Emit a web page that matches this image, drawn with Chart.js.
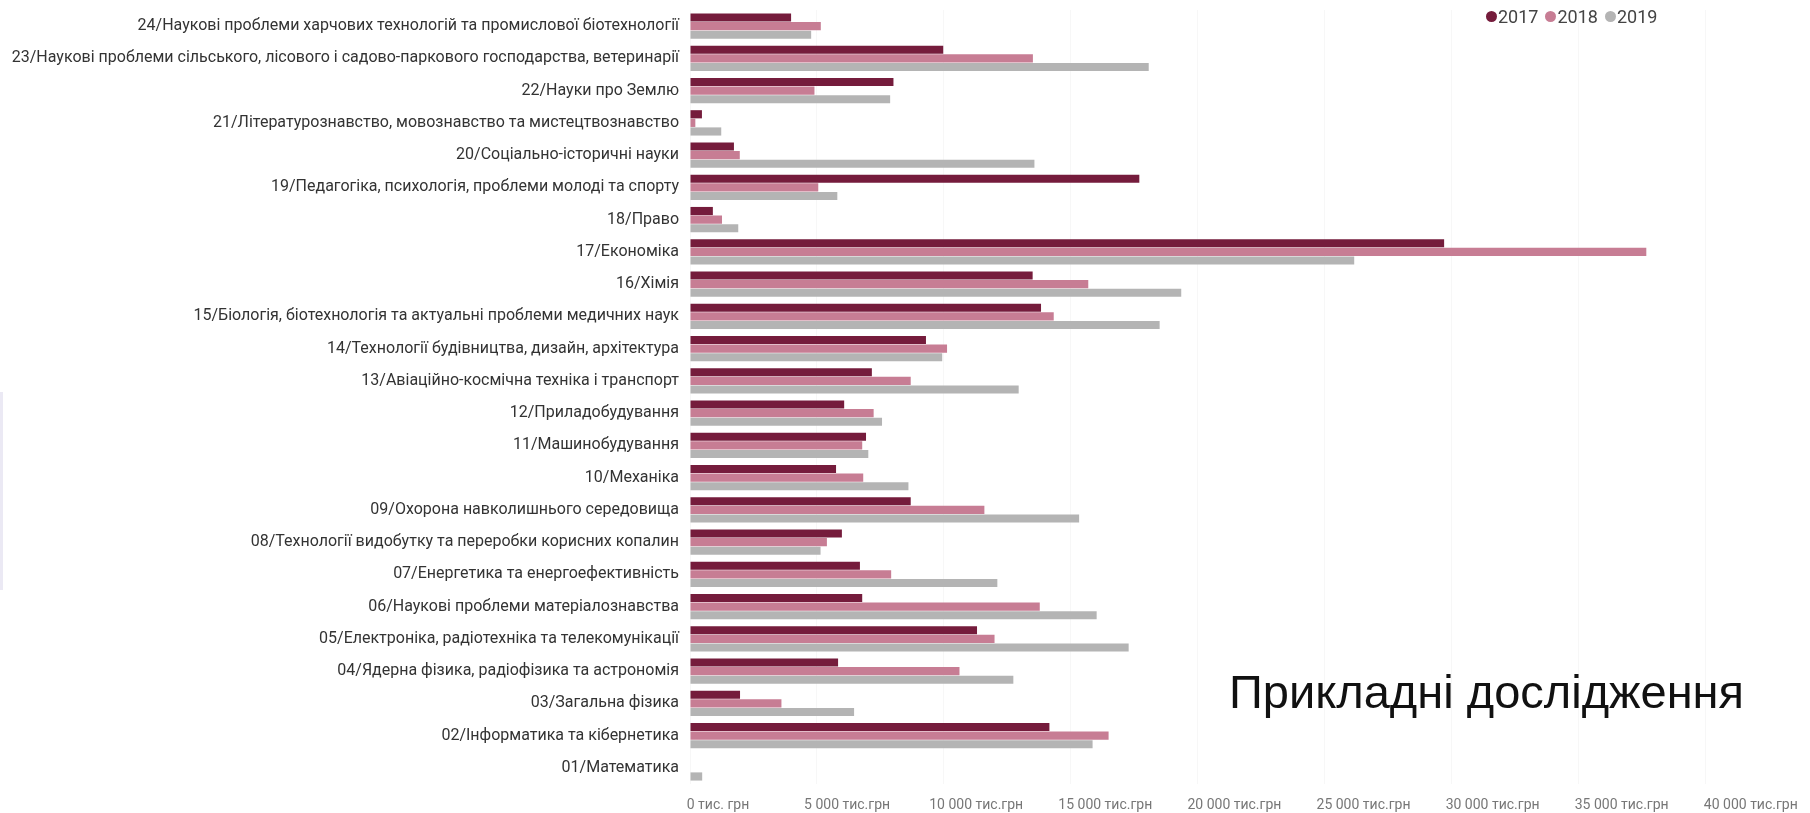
<!DOCTYPE html>
<html lang="uk">
<head>
<meta charset="utf-8">
<title>Прикладні дослідження</title>
<script src="https://cdn.jsdelivr.net/npm/chart.js@4/dist/chart.umd.min.js"></script>
<style>
  html, body { margin: 0; padding: 0; background: #fff; }
  #wrap { position: relative; width: 1810px; height: 813px; overflow: hidden; }
  #chart { position: absolute; left: 0; top: 0; }
  .legend { position: absolute; left: 1486px; top: 6px; display: flex; align-items: center;
            font: 18px Roboto, sans-serif; color: #444; white-space: nowrap; }
  .legend .item { display: flex; align-items: center; margin-right: 7px; }
  .legend .dot { display: inline-block; width: 11px; height: 11px; border-radius: 50%; margin-right: 1px; }
  .title { position: absolute; left: 1229px; top: 668px; font: 47px "Liberation Sans", Arial, sans-serif;
           line-height: 1; color: #111; white-space: nowrap; }
  .edge { position: absolute; left: 0; top: 392px; width: 3px; height: 198px; background: #ebe9f4; }
</style>
</head>
<body>
<div id="wrap">
  <canvas id="chart" width="1810" height="813"></canvas>
  <div class="edge"></div>
  <div class="legend" id="legend"></div>
  <div class="title">Прикладні дослідження</div>
</div>
<script>
// categories top to bottom
const categories = [
  '24/Наукові проблеми харчових технологій та промислової біотехнології',
  '23/Наукові проблеми сільського, лісового і садово-паркового господарства, ветеринарії',
  '22/Науки про Землю',
  '21/Літературознавство, мовознавство та мистецтвознавство',
  '20/Соціально-історичні науки',
  '19/Педагогіка, психологія, проблеми молоді та спорту',
  '18/Право',
  '17/Економіка',
  '16/Хімія',
  '15/Біологія, біотехнологія та актуальні проблеми медичних наук',
  '14/Технології будівництва, дизайн, архітектура',
  '13/Авіаційно-космічна техніка і транспорт',
  '12/Приладобудування',
  '11/Машинобудування',
  '10/Механіка',
  '09/Охорона навколишнього середовища',
  '08/Технології видобутку та переробки корисних копалин',
  '07/Енергетика та енергоефективність',
  '06/Наукові проблеми матеріалознавства',
  '05/Електроніка, радіотехніка та телекомунікації',
  '04/Ядерна фізика, радіофізика та астрономія',
  '03/Загальна фізика',
  '02/Інформатика та кібернетика',
  '01/Математика'
];

// тис. грн
const values2017 = [3980, 9970, 8010, 470, 1730, 17690, 900, 29690, 13490, 13820, 9290, 7160,
                    6070, 6930, 5750, 8690, 5980, 6690, 6780, 11300, 5830, 1970, 14150, 0];
const values2018 = [5150, 13500, 4900, 210, 1960, 5050, 1260, 37650, 15680, 14320, 10120, 8690,
                    7230, 6780, 6820, 11590, 5390, 7920, 13770, 11990, 10610, 3600, 16480, 0];
const values2019 = [4770, 18060, 7880, 1230, 13560, 5800, 1900, 26150, 19340, 18490, 9930, 12940,
                    7560, 7020, 8600, 15320, 5140, 12100, 16010, 17270, 12730, 6460, 15850, 480];

const years = ['2017', '2018', '2019'];
const colors = ['#751C3C', '#C77D94', '#B4B4B4'];
const xTicks = [0, 5000, 10000, 15000, 20000, 25000, 30000, 35000, 40000];

function fmtTick(v) {
  if (v === 0) return '0 тис. грн';
  return String(v).replace(/\B(?=(\d{3})+(?!\d))/g, ' ') + ' тис.грн';
}

function buildLegend() {
  const box = document.getElementById('legend');
  years.forEach((y, i) => {
    const item = document.createElement('span');
    item.className = 'item';
    const dot = document.createElement('span');
    dot.className = 'dot';
    dot.style.background = colors[i];
    item.appendChild(dot);
    item.appendChild(document.createTextNode(y));
    box.appendChild(item);
  });
}

function noPad(axis) {
  axis.paddingLeft = 0;
  axis.paddingRight = 0;
  axis.paddingTop = 0;
  axis.paddingBottom = 0;
}

function initChart() {
  const canvas = document.getElementById('chart');
  const series = [values2017, values2018, values2019];

  new Chart(canvas, {
    type: 'bar',
    data: {
      labels: categories,
      datasets: series.map((data, i) => ({
        label: years[i],
        data,
        backgroundColor: colors[i],
        borderWidth: 0,
        categoryPercentage: 0.8,
        barPercentage: 0.95
      }))
    },
    options: {
      indexAxis: 'y',
      responsive: false,
      animation: false,
      layout: { padding: { top: 10, right: 50, bottom: 0, left: 0 } },
      plugins: { legend: { display: false }, tooltip: { enabled: false } },
      scales: {
        // value axis: only the faint grid
        x: {
          type: 'linear',
          min: 0,
          max: 42126,
          afterBuildTicks: axis => { axis.ticks = xTicks.map(v => ({ value: v })); },
          afterFit: axis => { noPad(axis); axis.height = 0; },
          ticks: { display: false },
          grid: { color: '#f7f7f7', drawTicks: false },
          border: { display: false }
        },
        // tick labels sit a bit to the right of the grid lines in the original
        xLabels: {
          type: 'linear',
          position: 'bottom',
          min: -1084,
          max: 40356,
          afterBuildTicks: axis => { axis.ticks = xTicks.map(v => ({ value: v })); },
          afterFit: axis => { noPad(axis); axis.height = 29; },
          ticks: {
            padding: 13,
            color: '#777',
            font: { family: 'Roboto', size: 14 },
            maxRotation: 0,
            autoSkip: false,
            callback: v => fmtTick(v)
          },
          grid: { display: false, drawTicks: false },
          border: { display: false }
        },
        y: {
          afterFit: axis => { noPad(axis); axis.width = 690; },
          ticks: {
            padding: 11,
            color: '#333',
            font: { family: 'Roboto', size: 16 },
            autoSkip: false
          },
          grid: { display: false, drawTicks: false },
          border: { display: false }
        }
      }
    }
  });
}

document.addEventListener('DOMContentLoaded', () => {
  buildLegend();
  initChart();
});
</script>
</body>
</html>
